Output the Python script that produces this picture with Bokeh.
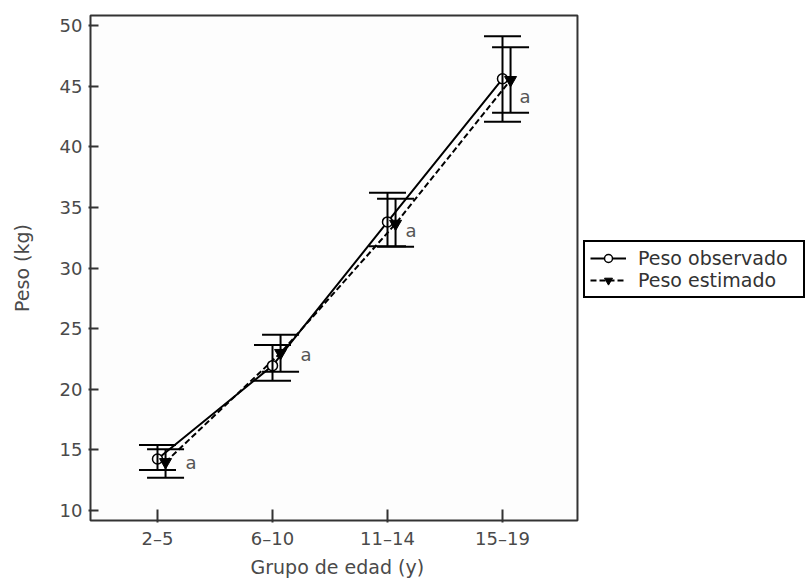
from bokeh.plotting import figure
from bokeh.models import (ColumnDataSource, Whisker, TeeHead, FixedTicker,
                          Legend, LegendItem, Range1d, BoxAnnotation, Title)
from bokeh.core.properties import value
from bokeh.embed import file_html
from bokeh.resources import INLINE

# ---- data ----
groups = ["2–5", "6–10", "11–14", "15–19"]
obs_mean = [14.25, 21.95, 33.8, 45.6]
obs_upper = [15.4, 23.65, 36.2, 49.1]
obs_lower = [13.35, 20.7, 31.8, 42.05]
est_mean = [14.0, 23.0, 33.65, 45.5]
est_upper = [15.05, 24.5, 35.7, 48.2]
est_lower = [12.7, 21.45, 31.75, 42.8]
sig_text = ["a", "a", "a", "a"]
sig_x = [1.243, 2.243, 3.157, 4.148]
sig_y = [14.0, 22.9, 33.1, 44.1]
y_ticks = [10, 15, 20, 25, 30, 35, 40, 45, 50]

FONT = "DejaVu Sans"
pos = list(range(1, len(groups) + 1))
est_shift = 0.07

# visible plot box (data units) and the wider frame that also hosts the legend
BOX_X0, BOX_X1 = 0.4174, 4.652
BOX_Y0, BOX_Y1 = 9.182, 50.818

src = ColumnDataSource(dict(
    x=pos,
    x_est=[p + est_shift for p in pos],
    obs=obs_mean, obs_up=obs_upper, obs_lo=obs_lower,
    est=est_mean, est_up=est_upper, est_lo=est_lower,
))
sig_src = ColumnDataSource(dict(x=sig_x, y=sig_y, t=sig_text))

p = figure(width=807, height=579,
           x_range=Range1d(0.4, 6.6348), y_range=Range1d(9.0184, 50.9816),
           min_border_left=88, min_border_right=2,
           min_border_top=13, min_border_bottom=53,
           output_backend="svg", toolbar_location=None)

p.xgrid.visible = False
p.ygrid.visible = False
p.outline_line_color = None
p.background_fill_color = "white"
p.border_fill_color = "white"

box = BoxAnnotation(left=BOX_X0, right=BOX_X1, bottom=BOX_Y0, top=BOX_Y1,
                    fill_color="#fdfdfd", fill_alpha=1,
                    line_color="#333333", line_width=2, line_alpha=1,
                    level="underlay")
p.add_layout(box)

# axes
for ax in (p.xaxis[0], p.yaxis[0]):
    ax.axis_line_color = None
    ax.major_tick_line_color = "#333333"
    ax.major_tick_line_width = 2
    ax.major_tick_out = 0
    ax.minor_tick_line_color = None
    ax.major_label_text_font = FONT
    ax.major_label_text_font_size = "18px"
    ax.major_label_text_color = "#4a4a4a"
    ax.axis_label_text_font = FONT
    ax.axis_label_text_font_size = "19px"
    ax.axis_label_text_font_style = "normal"
    ax.axis_label_text_color = "#4a4a4a"

p.xaxis.ticker = FixedTicker(ticks=pos)
p.xaxis.major_label_overrides = {pp: g for pp, g in zip(pos, groups)}
p.xaxis.major_tick_in = 13
p.xaxis.major_label_standoff = 5

p.yaxis.ticker = FixedTicker(ticks=y_ticks)
p.yaxis.axis_label = "Peso (kg)"
p.yaxis.major_tick_in = 10
p.yaxis.major_label_standoff = 6
p.yaxis.axis_label_standoff = 24

xtitle = Title(text="Grupo de edad (y)", align="left", offset=162,
               text_font=FONT, text_font_size="19px",
               text_font_style="normal", text_color="#4a4a4a", standoff=4)
p.add_layout(xtitle, "below")

# error bars
def tee():
    return TeeHead(size=37, line_color="black", line_width=2)

w_obs = Whisker(source=src, base="x", upper="obs_up", lower="obs_lo",
                line_color="black", line_width=2, level="glyph",
                upper_head=tee(), lower_head=tee())
w_est = Whisker(source=src, base="x_est", upper="est_up", lower="est_lo",
                line_color="black", line_width=2, level="glyph",
                upper_head=tee(), lower_head=tee())
p.add_layout(w_obs)
p.add_layout(w_est)

# lines and markers
l_obs = p.line("x", "obs", source=src, line_color="black", line_width=2)
l_est = p.line("x_est", "est", source=src, line_color="black", line_width=2,
               line_dash="6 3")
m_obs = p.scatter("x", "obs", source=src, marker="circle", size=10,
                  fill_color="white", line_color="black", line_width=1.5)
m_est = p.scatter("x_est", "est", source=src, marker="inverted_triangle",
                  size=12, fill_color="black", line_color="black")

p.text("x", "y", text="t", source=sig_src, text_font=value(FONT),
       text_font_size="18px", text_color="#555555",
       text_align="left", text_baseline="middle")

legend = Legend(items=[
    LegendItem(label="Peso observado", renderers=[l_obs, m_obs]),
    LegendItem(label="Peso estimado", renderers=[l_est, m_est]),
], location=(495, 224))
legend.label_text_font = FONT
legend.label_text_font_size = "19px"
legend.label_text_color = "#333333"
legend.border_line_color = "black"
legend.border_line_width = 2
legend.border_line_alpha = 1
legend.background_fill_color = "white"
legend.background_fill_alpha = 1
legend.padding = 5
legend.margin = 0
legend.spacing = 0
legend.glyph_width = 36
legend.glyph_height = 20
legend.label_height = 20
legend.label_width = 160
legend.label_standoff = 12
p.add_layout(legend, "center")

open("out.html", "w").write(file_html(p, INLINE))
